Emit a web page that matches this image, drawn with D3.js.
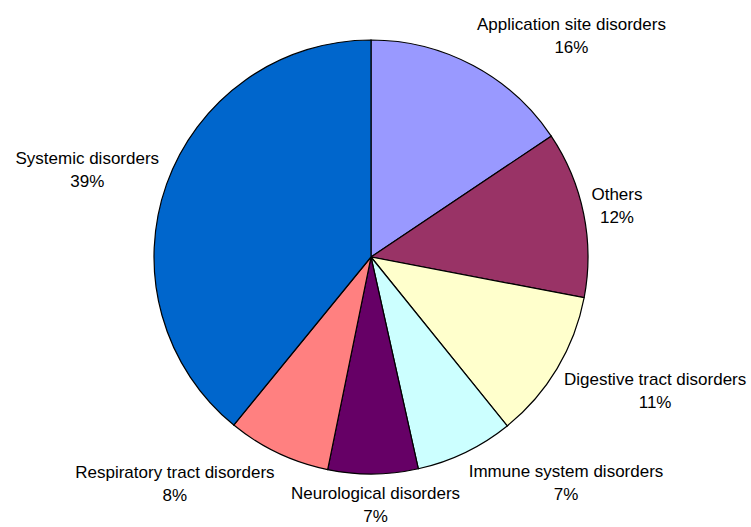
<!DOCTYPE html>
<html>
<head>
<meta charset="utf-8">
<script src="https://cdn.jsdelivr.net/npm/d3@7"></script>
<style>
  body { margin: 0; background: #fff; }
  text { font-family: "Liberation Sans", Arial, sans-serif; font-size: 17px; fill: #000; }
</style>
</head>
<body>
<div id="chart"></div>
<script>
// Slice data, clockwise from 12 o'clock
const categories = ["Application site disorders", "Others", "Digestive tract disorders",
    "Immune system disorders", "Neurological disorders", "Respiratory tract disorders", "Systemic disorders"];
const values = [15.6, 12.4, 11.2, 7.3, 6.7, 7.7, 39.1];
const colors = ["#9999FF", "#993366", "#FFFFCC", "#CCFFFF", "#660066", "#FF8080", "#0066CC"];

const width = 751;
const height = 527;
const cx = 371, cy = 257, radius = 217;
const lineGap = 23;

const svg = d3.select("#chart")
    .append("svg")
    .attr("width", width)
    .attr("height", height);

const g = svg.append("g")
    .attr("transform", "translate(" + cx + "," + cy + ")");

const pie = d3.pie().sort(null).value(d => d.value);
const arc = d3.arc().innerRadius(0).outerRadius(radius);

const data = pie(categories.map((c, i) => ({ name: c, value: values[i], color: colors[i] })));

g.selectAll("path")
    .data(data)
    .enter()
    .append("path")
    .attr("d", arc)
    .attr("fill", d => d.data.color)
    .attr("stroke", "#000")
    .attr("stroke-width", 1.2);

// Labels: box placed next to the arc at the slice mid-angle
const total = d3.sum(values);
const clamp = v => Math.max(-1, Math.min(1, v));
const labels = g.selectAll(".label")
    .data(data)
    .enter()
    .append("g")
    .attr("class", "label");

labels.each(function(d) {
    const sel = d3.select(this);
    const t1 = sel.append("text").attr("text-anchor", "middle").text(d.data.name);
    const t2 = sel.append("text").attr("text-anchor", "middle")
        .text(Math.round(d.data.value / total * 100) + "%");
    const w = Math.max(t1.node().getComputedTextLength(), t2.node().getComputedTextLength());
    const h = lineGap * 2;
    const a = (d.startAngle + d.endAngle) / 2;
    const r = radius + 8;
    const px = r * Math.sin(a), py = -r * Math.cos(a);
    const bx = px + (w / 2) * clamp(Math.sin(a) * 3);
    const by = py + (h / 2) * clamp(-Math.cos(a) * 1.5);
    t1.attr("x", bx).attr("y", by - lineGap / 2).attr("dy", "0.35em");
    t2.attr("x", bx).attr("y", by + lineGap / 2).attr("dy", "0.35em");
});
</script>
</body>
</html>
